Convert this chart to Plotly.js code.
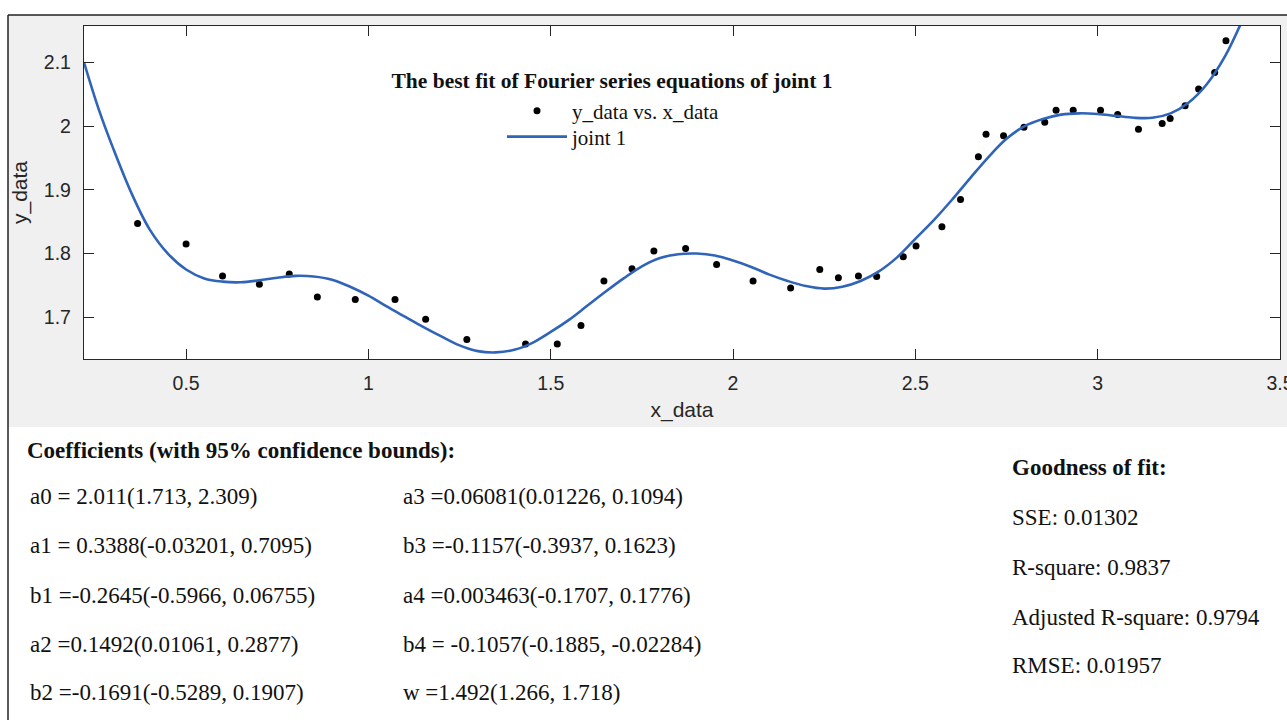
<!DOCTYPE html>
<html>
<head>
<meta charset="utf-8">
<script src="https://cdn.plot.ly/plotly-3.0.1.min.js"></script>
<style>
  html, body { margin: 0; padding: 0; background: #ffffff; }
  #chart { width: 1287px; height: 720px; }
</style>
</head>
<body>
<div id="chart"></div>
<script>
// ---- data ----
const xData = [0.367, 0.500, 0.600, 0.701, 0.783, 0.860, 0.964, 1.073, 1.157, 1.270,
               1.431, 1.518, 1.583, 1.646, 1.723, 1.783, 1.870, 1.955, 2.055, 2.158,
               2.238, 2.289, 2.344, 2.394, 2.467, 2.502, 2.573, 2.624, 2.673, 2.694,
               2.742, 2.798, 2.855, 2.886, 2.933, 3.008, 3.055, 3.112, 3.177, 3.199,
               3.240, 3.277, 3.321, 3.352];
const yData = [1.847, 1.815, 1.765, 1.752, 1.768, 1.732, 1.728, 1.728, 1.697, 1.665,
               1.658, 1.658, 1.687, 1.757, 1.776, 1.804, 1.808, 1.783, 1.757, 1.746,
               1.775, 1.762, 1.765, 1.764, 1.795, 1.812, 1.842, 1.885, 1.952, 1.987,
               1.985, 1.998, 2.006, 2.025, 2.025, 2.025, 2.018, 1.995, 2.004, 2.012,
               2.032, 2.058, 2.084, 2.134];

// fitted curve
const fitX = [0.22, 0.26, 0.30, 0.35, 0.40, 0.45, 0.50, 0.55, 0.60, 0.65,
              0.70, 0.75, 0.80, 0.85, 0.90, 0.95, 1.00, 1.05, 1.10, 1.15,
              1.20, 1.25, 1.30, 1.35, 1.40, 1.45, 1.50, 1.55, 1.60, 1.65,
              1.70, 1.75, 1.80, 1.85, 1.90, 1.95, 2.00, 2.05, 2.10, 2.15,
              2.20, 2.25, 2.30, 2.35, 2.40, 2.45, 2.50, 2.55, 2.60, 2.65,
              2.70, 2.75, 2.80, 2.85, 2.90, 2.95, 3.00, 3.05, 3.10, 3.15,
              3.20, 3.25, 3.30, 3.35, 3.40];
const fitY = [2.100, 2.027, 1.965, 1.895, 1.838, 1.800, 1.775, 1.761, 1.756, 1.755,
              1.758, 1.762, 1.765, 1.764, 1.759, 1.748, 1.734, 1.717, 1.701, 1.685,
              1.670, 1.656, 1.647, 1.645, 1.649, 1.660, 1.677, 1.696, 1.718, 1.740,
              1.761, 1.780, 1.793, 1.799, 1.800, 1.797, 1.789, 1.779, 1.767, 1.757,
              1.749, 1.745, 1.748, 1.757, 1.772, 1.794, 1.823, 1.852, 1.884, 1.918,
              1.951, 1.980, 2.000, 2.011, 2.018, 2.020, 2.019, 2.016, 2.013, 2.013,
              2.020, 2.037, 2.066, 2.110, 2.170];

const xTickVals = [0.5, 1, 1.5, 2, 2.5, 3, 3.5];
const xTickText = ['0.5', '1', '1.5', '2', '2.5', '3', '3.5'];
const yTickVals = [1.7, 1.8, 1.9, 2, 2.1];
const yTickText = ['1.7', '1.8', '1.9', '2', '2.1'];

const chartTitle = 'The best fit of Fourier series equations of joint 1';
const seriesNames = ['y_data vs. x_data', 'joint 1'];

const coefHeader = 'Coefficients (with 95% confidence bounds):';
const coefLeft = ['a0 = 2.011(1.713, 2.309)',
                  'a1 = 0.3388(-0.03201, 0.7095)',
                  'b1 =-0.2645(-0.5966, 0.06755)',
                  'a2 =0.1492(0.01061, 0.2877)',
                  'b2 =-0.1691(-0.5289, 0.1907)'];
const coefMid = ['a3 =0.06081(0.01226, 0.1094)',
                 'b3 =-0.1157(-0.3937, 0.1623)',
                 'a4 =0.003463(-0.1707, 0.1776)',
                 'b4 = -0.1057(-0.1885, -0.02284)',
                 'w =1.492(1.266, 1.718)'];
const gofHeader = 'Goodness of fit:';
const gofLines = ['SSE: 0.01302', 'R-square: 0.9837',
                  'Adjusted R-square: 0.9794', 'RMSE: 0.01957'];

// ---- layout geometry (pixels) ----
const W = 1287, H = 720;
const PL = 84, PR = 1280, PT = 26, PB = 359;
const px2x = p => (p - PL) / (PR - PL);
const py2y = p => (PB - p) / (PB - PT);

const serif = '"Liberation Serif", "Times New Roman", Times, serif';
const sans = '"Liberation Sans Narrow", "Arial Narrow", "Liberation Sans", Arial, sans-serif';
const axisColor = '#262626';

const traces = [
  {
    x: xData, y: yData, type: 'scatter', mode: 'markers', name: seriesNames[0],
    legend: 'legend',
    marker: { color: '#000000', size: 7 }
  },
  {
    x: fitX, y: fitY, type: 'scatter', mode: 'lines', name: seriesNames[1],
    legend: 'legend2',
    line: { color: '#2f64b9', width: 2.6, shape: 'spline', smoothing: 1 }
  }
];

const annotations = [];
function addText(text, px, py, bold, size) {
  annotations.push({
    xref: 'paper', yref: 'paper', x: px2x(px), y: py2y(py),
    xanchor: 'left', yanchor: 'middle', showarrow: false,
    text: bold ? '<b>' + text + '</b>' : text,
    font: { family: serif, size: size, color: '#111111' }
  });
}
const bottomSize = 23;
addText(coefHeader, 25, 450, true, bottomSize);
const leftRowsY = [496, 545, 595, 644, 693];
coefLeft.forEach((t, i) => addText(t, 28, leftRowsY[i], false, bottomSize));
coefMid.forEach((t, i) => addText(t, 401, leftRowsY[i], false, bottomSize));
addText(gofHeader, 1010, 467, true, bottomSize);
const gofRowsY = [517, 567, 617, 665];
gofLines.forEach((t, i) => addText(t, 1010, gofRowsY[i], false, bottomSize));

const shapes = [
  { type: 'rect', xref: 'paper', yref: 'paper', layer: 'below',
    x0: px2x(8), x1: px2x(1295), y0: py2y(427), y1: py2y(15),
    fillcolor: '#f0f0f0', line: { width: 0 } },
  { type: 'rect', xref: 'paper', yref: 'paper', layer: 'below',
    x0: 0, x1: 1, y0: 0, y1: 1, fillcolor: '#ffffff', line: { width: 0 } },
  { type: 'line', xref: 'paper', yref: 'paper',
    x0: px2x(8), x1: px2x(1295), y0: py2y(15), y1: py2y(15),
    line: { color: '#222222', width: 1.5 } },
  { type: 'line', xref: 'paper', yref: 'paper',
    x0: px2x(8), x1: px2x(8), y0: py2y(15), y1: py2y(725),
    line: { color: '#222222', width: 1.5 } }
];

const legendBase = {
  xanchor: 'left', yanchor: 'middle',
  bgcolor: 'rgba(0,0,0,0)', borderwidth: 0, itemwidth: 60,
  font: { family: serif, size: 21, color: '#111111' }
};

const layout = {
  width: W, height: H,
  margin: { l: PL, r: W - PR, t: PT, b: H - PB, pad: 0 },
  paper_bgcolor: '#ffffff', plot_bgcolor: '#ffffff',
  showlegend: true,
  title: {
    text: '<b>' + chartTitle + '</b>',
    xref: 'paper', x: px2x(612), xanchor: 'center',
    yref: 'paper', y: py2y(80), yanchor: 'middle',
    font: { family: serif, size: 21.5, color: '#111111' }
  },
  legend: Object.assign({}, legendBase, { x: px2x(502), y: py2y(111) }),
  legend2: Object.assign({}, legendBase, { x: px2x(502), y: py2y(137) }),
  xaxis: {
    range: [0.22, 3.5002], tickmode: 'array', tickvals: xTickVals, ticktext: xTickText,
    ticks: 'inside', ticklen: 10, tickwidth: 1, tickcolor: axisColor,
    showline: true, linecolor: axisColor, linewidth: 1.2, mirror: 'ticks',
    showgrid: false, zeroline: false, ticklabelstandoff: 6,
    ticklabeloverflow: 'allow',
    tickfont: { family: sans, size: 19.5, color: axisColor },
    title: { text: 'x_data', standoff: 9, font: { family: sans, size: 21, color: axisColor } }
  },
  yaxis: {
    range: [1.6346, 2.157], tickmode: 'array', tickvals: yTickVals, ticktext: yTickText,
    ticks: 'inside', ticklen: 10, tickwidth: 1, tickcolor: axisColor,
    showline: true, linecolor: axisColor, linewidth: 1.2, mirror: 'ticks',
    showgrid: false, zeroline: false, ticklabelstandoff: 8,
    ticklabeloverflow: 'allow',
    tickfont: { family: sans, size: 19.5, color: axisColor },
    title: { text: 'y_data', standoff: 10, font: { family: sans, size: 21, color: axisColor } }
  },
  annotations: annotations,
  shapes: shapes
};

Plotly.newPlot('chart', traces, layout, { displayModeBar: false, staticPlot: true });
</script>
</body>
</html>
